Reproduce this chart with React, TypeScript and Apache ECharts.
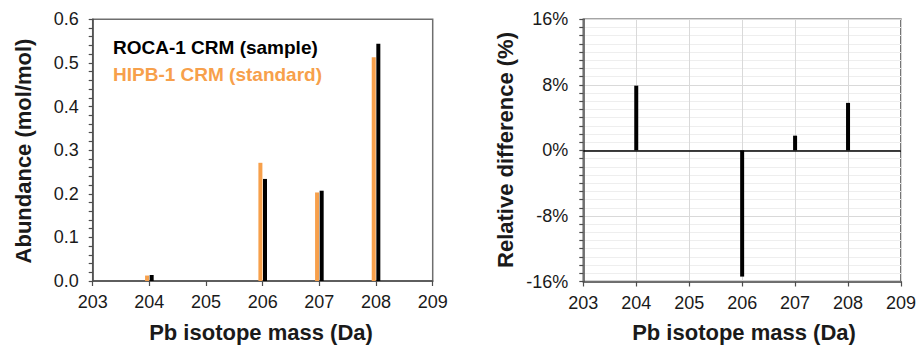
import React, { useEffect, useRef } from "react";
import * as echarts from "echarts";

const masses = [204, 206, 207, 208];
const rocaValues = [0.0138, 0.234, 0.207, 0.544];
const hipbValues = [0.0125, 0.271, 0.203, 0.513];
const relDiffValues = [7.9, -15.4, 1.8, 5.8];
const seriesNames = ["ROCA-1 CRM (sample)", "HIPB-1 CRM (standard)"];
const xTitle = "Pb isotope mass (Da)";
const yTitleLeft = "Abundance (mol/mol)";
const yTitleRight = "Relative difference (%)";

const FONT = "'Liberation Sans', Arial, sans-serif";
const ORANGE = "#F7A04B";
const TXT = "#1a1a1a";

export default function App() {
  const ref = useRef<HTMLDivElement>(null);
  useEffect(() => {
    if (!ref.current) return;
    const chart = echarts.init(ref.current, undefined, { renderer: "svg" });
    const axisLabel = { color: TXT, fontSize: 18, fontFamily: FONT };
    const xAxisBase = (gridIndex: number, gridLines: boolean) => ({
      type: "value",
      gridIndex,
      min: 203,
      max: 209,
      interval: 1,
      axisLine: { show: true, onZero: false, lineStyle: { color: "#4d4d4d", width: 1.5 } },
      axisTick: { show: true, inside: false, length: 5, lineStyle: { color: "#4d4d4d", width: 1.2 } },
      axisLabel: { ...axisLabel, margin: 12 },
      splitLine: { show: gridLines, lineStyle: { color: "#d9d9d9", width: 1 } },
    });
    chart.setOption({
      animation: false,
      grid: [
        { left: 92.7, right: 486.3, top: 19.3, bottom: 65, show: true, borderColor: "#6e6e6e", borderWidth: 1.5, containLabel: false },
        { left: 583.3, right: 15, top: 19.3, bottom: 64.5, show: true, borderColor: "#4d4d4d", borderWidth: 1.5, containLabel: false },
      ],
      xAxis: [xAxisBase(0, false), xAxisBase(1, true)],
      yAxis: [
        {
          type: "value",
          gridIndex: 0,
          min: 0,
          max: 0.6,
          interval: 0.1,
          axisLine: { show: true, lineStyle: { color: "#4d4d4d", width: 1.5 } },
          axisTick: { show: true, inside: false, length: 4, lineStyle: { color: "#4d4d4d", width: 1.2 } },
          minorTick: { show: true, splitNumber: 5, length: 4, lineStyle: { color: "#4d4d4d", width: 1.2 } },
          axisLabel: { ...axisLabel, margin: 14, formatter: (v: number) => v.toFixed(1) },
          splitLine: { show: false },
        },
        {
          type: "value",
          gridIndex: 1,
          min: -16,
          max: 16,
          interval: 8,
          axisLine: { show: true, onZero: false, lineStyle: { color: "#4d4d4d", width: 1.5 } },
          axisTick: { show: true, inside: false, length: 4, lineStyle: { color: "#4d4d4d", width: 1.2 } },
          minorTick: { show: true, splitNumber: 8, length: 4, lineStyle: { color: "#4d4d4d", width: 1.2 } },
          axisLabel: { ...axisLabel, margin: 15, formatter: (v: number) => `${v}%` },
          splitLine: { show: true, lineStyle: { color: "#d9d9d9", width: 1 } },
          minorSplitLine: { show: true, lineStyle: { color: "#eeeeee", width: 1 } },
        },
      ],
      series: [
        {
          name: seriesNames[1],
          type: "bar",
          xAxisIndex: 0,
          yAxisIndex: 0,
          barWidth: 4,
          barGap: "15%",
          itemStyle: { color: ORANGE },
          data: masses.map((m, i) => [m, hipbValues[i]]),
        },
        {
          name: seriesNames[0],
          type: "bar",
          xAxisIndex: 0,
          yAxisIndex: 0,
          barWidth: 4,
          barGap: "15%",
          itemStyle: { color: "#000" },
          data: masses.map((m, i) => [m, rocaValues[i]]),
        },
        {
          name: "diff",
          type: "bar",
          xAxisIndex: 1,
          yAxisIndex: 1,
          barWidth: 4,
          itemStyle: { color: "#000" },
          data: masses.map((m, i) => [m, relDiffValues[i]]),
          markLine: {
            silent: true,
            symbol: "none",
            label: { show: false },
            lineStyle: { color: "#000", width: 1.5, type: "solid" },
            data: [{ yAxis: 0 }],
          },
        },
      ],
      graphic: [
        { type: "text", x: 113, y: 47.5, style: { text: seriesNames[0], fill: "#000", font: `bold 19px ${FONT}`, textVerticalAlign: "middle" } },
        { type: "text", x: 113, y: 74, style: { text: seriesNames[1], fill: ORANGE, font: `bold 19px ${FONT}`, textVerticalAlign: "middle" } },
        { type: "text", x: 261, y: 332, style: { text: xTitle, fill: TXT, font: `bold 22px ${FONT}`, textAlign: "center", textVerticalAlign: "middle" } },
        { type: "text", x: 744, y: 332, style: { text: xTitle, fill: TXT, font: `bold 22px ${FONT}`, textAlign: "center", textVerticalAlign: "middle" } },
        { type: "text", x: 23, y: 151, rotation: Math.PI / 2, style: { text: yTitleLeft, fill: TXT, font: `bold 22px ${FONT}`, textAlign: "center", textVerticalAlign: "middle" } },
        { type: "text", x: 505, y: 150, rotation: Math.PI / 2, style: { text: yTitleRight, fill: TXT, font: `bold 22px ${FONT}`, textAlign: "center", textVerticalAlign: "middle" } },
      ],
    });
    return () => chart.dispose();
  }, []);
  return <div ref={ref} style={{ width: 919, height: 346, position: "absolute", left: 0, top: 0, background: "#fff" }} />;
}
